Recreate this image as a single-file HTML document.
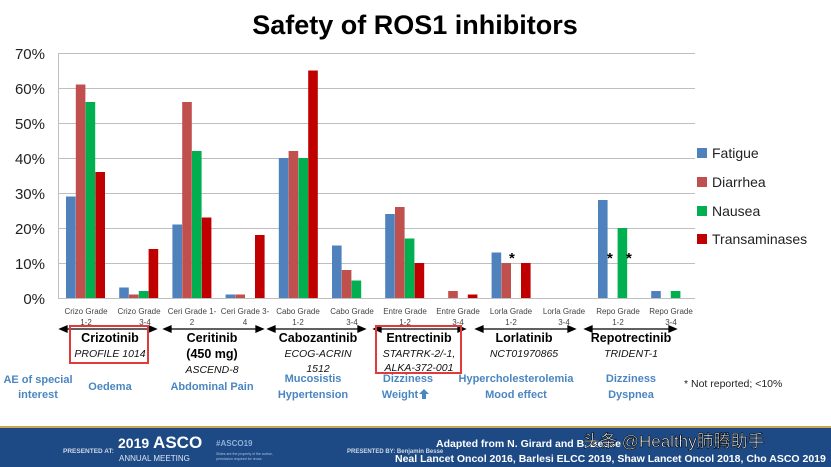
<!DOCTYPE html>
<html><head><meta charset="utf-8"><style>
html,body{margin:0;padding:0;background:#fff;}
svg{display:block;font-family:"Liberation Sans","Noto Sans CJK SC",sans-serif;}
</style></head><body>
<svg width="831" height="467" viewBox="0 0 831 467" xmlns="http://www.w3.org/2000/svg">
<rect width="831" height="467" fill="#fff"/>
<text x="415" y="34" text-anchor="middle" font-size="27" font-weight="bold" fill="#000">Safety of ROS1 inhibitors</text>
<g stroke="#bfbfbf" stroke-width="1">
<line x1="58" y1="53.5" x2="695" y2="53.5"/><line x1="58" y1="88.5" x2="695" y2="88.5"/>
<line x1="58" y1="123.5" x2="695" y2="123.5"/><line x1="58" y1="158.5" x2="695" y2="158.5"/>
<line x1="58" y1="193.5" x2="695" y2="193.5"/><line x1="58" y1="228.5" x2="695" y2="228.5"/>
<line x1="58" y1="263.5" x2="695" y2="263.5"/><line x1="58" y1="298.5" x2="695" y2="298.5"/>
<line x1="58.5" y1="53" x2="58.5" y2="298"/>
</g>
<g font-size="15" fill="#222" text-anchor="end">
<text x="45" y="59">70%</text><text x="45" y="94">60%</text><text x="45" y="129">50%</text>
<text x="45" y="164">40%</text><text x="45" y="199">30%</text><text x="45" y="234">20%</text>
<text x="45" y="269">10%</text><text x="45" y="304">0%</text>
</g>
<g>
<g fill="#4f81bd">
<rect x="66" y="196.5" width="9.6" height="101.5"/>
<rect x="119.2" y="287.5" width="9.6" height="10.5"/>
<rect x="172.4" y="224.5" width="9.6" height="73.5"/>
<rect x="225.6" y="294.5" width="9.6" height="3.5"/>
<rect x="278.8" y="158" width="9.6" height="140"/>
<rect x="332" y="245.5" width="9.6" height="52.5"/>
<rect x="385.2" y="214" width="9.6" height="84"/>
<rect x="491.6" y="252.5" width="9.6" height="45.5"/>
<rect x="598" y="200" width="9.6" height="98"/>
<rect x="651.2" y="291" width="9.6" height="7"/>
</g>
<g fill="#c0504d">
<rect x="75.8" y="84.5" width="9.6" height="213.5"/>
<rect x="129" y="294.5" width="9.6" height="3.5"/>
<rect x="182.2" y="102" width="9.6" height="196"/>
<rect x="235.4" y="294.5" width="9.6" height="3.5"/>
<rect x="288.6" y="151" width="9.6" height="147"/>
<rect x="341.8" y="270" width="9.6" height="28"/>
<rect x="395" y="207" width="9.6" height="91"/>
<rect x="448.2" y="291" width="9.6" height="7"/>
<rect x="501.4" y="263" width="9.6" height="35"/>
</g>
<g fill="#00b050">
<rect x="85.6" y="102" width="9.6" height="196"/>
<rect x="138.8" y="291" width="9.6" height="7"/>
<rect x="192" y="151" width="9.6" height="147"/>
<rect x="298.4" y="158" width="9.6" height="140"/>
<rect x="351.6" y="280.5" width="9.6" height="17.5"/>
<rect x="404.8" y="238.5" width="9.6" height="59.5"/>
<rect x="617.6" y="228" width="9.6" height="70"/>
<rect x="670.8" y="291" width="9.6" height="7"/>
</g>
<g fill="#c00000">
<rect x="95.4" y="172" width="9.6" height="126"/>
<rect x="148.6" y="249" width="9.6" height="49"/>
<rect x="201.8" y="217.5" width="9.6" height="80.5"/>
<rect x="255" y="235" width="9.6" height="63"/>
<rect x="308.2" y="70.5" width="9.6" height="227.5"/>
<rect x="414.6" y="263" width="9.6" height="35"/>
<rect x="467.8" y="294.5" width="9.6" height="3.5"/>
<rect x="521" y="263" width="9.6" height="35"/>
</g>
</g>
<g font-size="15" font-weight="bold" fill="#000"><text x="509" y="263">*</text><text x="607" y="263">*</text><text x="626" y="263">*</text></g>
<g font-size="14" fill="#222">
<rect x="697" y="148" width="10" height="10" fill="#4f81bd"/><text x="712" y="158">Fatigue</text>
<rect x="697" y="177" width="10" height="10" fill="#c0504d"/><text x="712" y="187">Diarrhea</text>
<rect x="697" y="206" width="10" height="10" fill="#00b050"/><text x="712" y="216">Nausea</text>
<rect x="697" y="234" width="10" height="10" fill="#c00000"/><text x="712" y="244">Transaminases</text>
</g>
<g font-size="8" fill="#444" text-anchor="middle">
<text x="86" y="314">Crizo Grade</text><text x="86" y="325">1-2</text>
<text x="139" y="314">Crizo Grade</text><text x="145" y="325">3-4</text>
<text x="192" y="314">Ceri Grade 1-</text><text x="192" y="325">2</text>
<text x="245" y="314">Ceri Grade 3-</text><text x="245" y="325">4</text>
<text x="298" y="314">Cabo Grade</text><text x="298" y="325">1-2</text>
<text x="352" y="314">Cabo Grade</text><text x="352" y="325">3-4</text>
<text x="405" y="314">Entre Grade</text><text x="405" y="325">1-2</text>
<text x="458" y="314">Entre Grade</text><text x="458" y="325">3-4</text>
<text x="511" y="314">Lorla Grade</text><text x="511" y="325">1-2</text>
<text x="564" y="314">Lorla Grade</text><text x="564" y="325">3-4</text>
<text x="618" y="314">Repo Grade</text><text x="618" y="325">1-2</text>
<text x="671" y="314">Repo Grade</text><text x="671" y="325">3-4</text>
</g>
<g stroke="#000" stroke-width="1.3" fill="#000">
<line x1="64" y1="329" x2="152" y2="329"/><polygon points="60,329 67,326 67,332"/><polygon points="156,329 149,326 149,332"/>
<line x1="168" y1="329" x2="259" y2="329"/><polygon points="164,329 171,326 171,332"/><polygon points="263,329 256,326 256,332"/>
<line x1="272" y1="329" x2="361" y2="329"/><polygon points="268,329 275,326 275,332"/><polygon points="365,329 358,326 358,332"/>
<line x1="378" y1="329" x2="461" y2="329"/><polygon points="374,329 381,326 381,332"/><polygon points="465,329 458,326 458,332"/>
<line x1="480" y1="329" x2="571" y2="329"/><polygon points="476,329 483,326 483,332"/><polygon points="575,329 568,326 568,332"/>
<line x1="589" y1="329" x2="672" y2="329"/><polygon points="585,329 592,326 592,332"/><polygon points="676,329 669,326 669,332"/>
</g>
<rect x="70" y="326" width="78" height="37" fill="none" stroke="#e03a3a" stroke-width="2"/>
<rect x="376" y="326" width="85" height="47" fill="none" stroke="#e03a3a" stroke-width="2"/>
<g font-size="12.5" font-weight="bold" fill="#000" text-anchor="middle">
<text x="110" y="342">Crizotinib</text>
<text x="212" y="342">Ceritinib</text><text x="212" y="358">(450 mg)</text>
<text x="318" y="342">Cabozantinib</text>
<text x="419" y="342">Entrectinib</text>
<text x="524" y="342">Lorlatinib</text>
<text x="631" y="342">Repotrectinib</text>
</g>
<g font-size="10.5" font-style="italic" fill="#111" text-anchor="middle">
<text x="110" y="357">PROFILE 1014</text>
<text x="212" y="373">ASCEND-8</text>
<text x="318" y="357">ECOG-ACRIN</text><text x="318" y="372">1512</text>
<text x="419" y="357">STARTRK-2/-1,</text><text x="419" y="371">ALKA-372-001</text>
<text x="524" y="357">NCT01970865</text>
<text x="631" y="357">TRIDENT-1</text>
</g>
<g font-size="11" font-weight="bold" fill="#4a86c0" text-anchor="middle">
<text x="38" y="383">AE of special</text><text x="38" y="398">interest</text>
<text x="110" y="390">Oedema</text>
<text x="212" y="390">Abdominal Pain</text>
<text x="313" y="382">Mucosistis</text><text x="313" y="398">Hypertension</text>
<text x="408" y="382">Dizziness</text><text x="400" y="398">Weight</text>
<text x="516" y="382">Hypercholesterolemia</text><text x="516" y="398">Mood effect</text>
<text x="631" y="382">Dizziness</text><text x="631" y="398">Dyspnea</text>
</g>
<polygon points="424,389 419,394 422,394 422,399 426,399 426,394 429,394" fill="#4a86c0"/>
<text x="684" y="387" font-size="10.5" fill="#222">* Not reported; &lt;10%</text>
<rect x="0" y="426" width="831" height="2" fill="#c9a94a"/>
<rect x="0" y="428" width="831" height="39" fill="#1d4a85"/>
<text x="63" y="453" font-size="6.5" fill="#cfd8e6" font-weight="bold">PRESENTED AT:</text>
<text x="118" y="448" font-size="14" fill="#fff" font-weight="bold">2019 <tspan font-size="17">ASCO</tspan></text>
<text x="119" y="461" font-size="8" fill="#dfe6f0">ANNUAL MEETING</text>
<text x="216" y="446" font-size="8" fill="#8fb0d9" font-weight="bold">#ASCO19</text>
<text x="216" y="455" font-size="3.5" fill="#aac0dd">Slides are the property of the author,</text>
<text x="216" y="460" font-size="3.5" fill="#aac0dd">permission required for reuse.</text>
<text x="347" y="453" font-size="6" fill="#cfd8e6" font-weight="bold">PRESENTED BY: Benjamin Besse</text>
<text x="436" y="447" font-size="10.5" fill="#fff" font-weight="bold">Adapted from N. Girard and B. Besse</text>
<text x="395" y="462" font-size="10.5" fill="#fff" font-weight="bold">Neal Lancet Oncol 2016, Barlesi ELCC 2019, Shaw Lancet Oncol 2018, Cho ASCO 2019</text>
<text x="583" y="447" font-size="17" fill="#fff" stroke="#000" stroke-width="0.6">头条 @Healthy肺腾助手</text>
</svg>
</body></html>
